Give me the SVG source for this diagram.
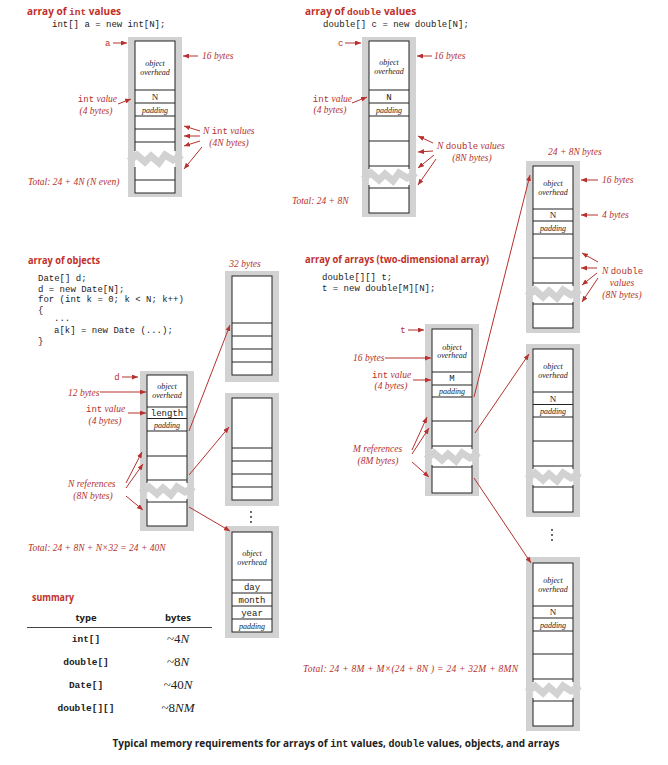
<svg xmlns="http://www.w3.org/2000/svg" xmlns:xlink="http://www.w3.org/1999/xlink" width="668" height="765" viewBox="0 0 668 765">
<style>
.g{fill:#d2d2d2}
.c{fill:#fff;stroke:#222;stroke-width:1}
.l{stroke:#222;stroke-width:1}
.l2{stroke:#222;stroke-width:1.2}
.a{stroke:#b5322e;stroke-width:1;fill:none;marker-end:url(#ah)}
.t{font-family:"Open Sans",sans-serif;font-weight:bold;font-size:10.5px;fill:#c0302a}
.tm{font-family:"Liberation Mono",monospace;font-weight:bold;font-size:10px}
.code{font-family:"Liberation Mono",monospace;font-size:9px;fill:#222}
.lab{font-family:"Liberation Serif",serif;font-style:italic;font-size:9.5px;fill:#b5322e}
.lm{font-family:"Liberation Mono",monospace;font-style:normal;font-size:9px;fill:#b5322e}
.ov{font-family:"Liberation Serif",serif;font-style:italic;font-size:8px;fill:#222;text-anchor:middle}
.cm{font-family:"Liberation Mono",monospace;font-size:9px;fill:#222;text-anchor:middle}
.cs{font-family:"Liberation Serif",serif;font-size:9px;fill:#222;text-anchor:middle}
.sh{font-family:"Open Sans",sans-serif;font-weight:bold;font-size:9.5px;fill:#222;text-anchor:middle}
.sm{font-family:"Liberation Mono",monospace;font-weight:bold;font-size:9.5px;fill:#222;text-anchor:middle}
.sv{font-family:"Liberation Serif",serif;font-size:13px;fill:#222;text-anchor:middle}
.cap{font-family:"Open Sans",sans-serif;font-weight:bold;font-size:10px;fill:#222;text-anchor:middle}
</style>
<defs>
<marker id="ah" markerWidth="6" markerHeight="5" refX="6" refY="2.5" orient="auto" markerUnits="userSpaceOnUse">
<path d="M0,0 L6,2.5 L0,5 z" fill="#b5322e"/>
</marker>
<g id="brk">
<rect x="-0.7" y="-8" width="41.4" height="16" fill="#fff"/>
<polyline points="-6,2 2,-4 10,3 16,-3 24,4 30,-4 38,1 47,-4" fill="none" stroke="#d2d2d2" stroke-width="7" stroke-linejoin="miter"/>
</g>
<g id="dot3" fill="#222">
<circle cx="0" cy="0" r="0.9"/><circle cx="0" cy="5" r="0.9"/><circle cx="0" cy="10" r="0.9"/>
</g>
</defs>
<rect width="668" height="765" fill="#fff"/>

<!-- array of int values -->
<g id="int-array">
<text x="27" y="15" class="t" style="font-size:10px">array of <tspan class="tm" style="font-size:9.5px">int</tspan> values</text>
<text x="52" y="27" class="code">int[] a = new int[N];</text>
<rect x="128" y="37" width="54" height="160" class="g"/>
<rect x="135" y="41" width="40" height="152" class="c"/>
<line x1="135" y1="90" x2="175" y2="90" class="l"/>
<line x1="135" y1="103" x2="175" y2="103" class="l2"/>
<line x1="135" y1="116" x2="175" y2="116" class="l"/>
<line x1="135" y1="129" x2="175" y2="129" class="l"/>
<line x1="135" y1="142" x2="175" y2="142" class="l"/>
<line x1="135" y1="180" x2="175" y2="180" class="l"/>
<use xlink:href="#brk" x="135" y="159"/>
<text x="155" y="66" class="ov">object</text>
<text x="155" y="75" class="ov">overhead</text>
<text x="155" y="99.5" class="cs">N</text>
<text x="155" y="113" class="ov">padding</text>
<text x="105" y="46" class="lm">a</text>
<text x="202" y="59" class="lab">16 bytes</text>
<text x="117" y="102" class="lab" text-anchor="end"><tspan class="lm">int</tspan> value</text>
<text x="96" y="114" class="lab" text-anchor="middle">(4 bytes)</text>
<text x="203" y="134" class="lab">N <tspan class="lm">int</tspan> values</text>
<text x="229" y="146" class="lab" text-anchor="middle">(4N bytes)</text>
<text x="28" y="185" class="lab">Total: 24 + 4N (N even)</text>
</g>

<!-- array of double values -->
<g id="double-array">
<text x="305" y="15" class="t" style="font-size:10px">array of <tspan class="tm" style="font-size:9.5px">double</tspan> values</text>
<text x="323" y="27" class="code">double[] c = new double[N];</text>
<rect x="362" y="37" width="54" height="180" class="g"/>
<rect x="369" y="41" width="40" height="172" class="c"/>
<line x1="369" y1="90" x2="409" y2="90" class="l"/>
<line x1="369" y1="103" x2="409" y2="103" class="l2"/>
<line x1="369" y1="116" x2="409" y2="116" class="l"/>
<line x1="369" y1="141" x2="409" y2="141" class="l"/>
<line x1="369" y1="166" x2="409" y2="166" class="l"/>
<line x1="369" y1="188" x2="409" y2="188" class="l"/>
<use xlink:href="#brk" x="369" y="177"/>
<text x="389" y="65" class="ov">object</text>
<text x="389" y="74" class="ov">overhead</text>
<text x="389" y="99.5" class="cm">N</text>
<text x="389" y="113" class="ov">padding</text>
<text x="338" y="46" class="lm">c</text>
<text x="434" y="59" class="lab">16 bytes</text>
<text x="352" y="102" class="lab" text-anchor="end"><tspan class="lm">int</tspan> value</text>
<text x="330" y="113" class="lab" text-anchor="middle">(4 bytes)</text>
<text x="437" y="149" class="lab">N <tspan class="lm">double</tspan> values</text>
<text x="472" y="161" class="lab" text-anchor="middle">(8N bytes)</text>
<text x="292" y="204" class="lab">Total: 24 + 8N</text>
</g>

<!-- array of objects -->
<g id="object-array">
<text x="28" y="264" class="t" textLength="72" lengthAdjust="spacingAndGlyphs">array of objects</text>
<text x="38" y="281" class="code">Date[] d;</text>
<text x="38" y="291.5" class="code">d = new Date[N];</text>
<text x="38" y="302" class="code">for (int k = 0; k &lt; N; k++)</text>
<text x="38" y="312.5" class="code">{</text>
<text x="54" y="321" class="code">...</text>
<text x="54" y="333" class="code">a[k] = new Date (...);</text>
<text x="38" y="344" class="code">}</text>
<rect x="140" y="371" width="54" height="160" class="g"/>
<rect x="147" y="375" width="40" height="151" class="c"/>
<line x1="147" y1="407" x2="187" y2="407" class="l"/>
<line x1="147" y1="418.5" x2="187" y2="418.5" class="l2"/>
<line x1="147" y1="431" x2="187" y2="431" class="l"/>
<line x1="147" y1="456" x2="187" y2="456" class="l"/>
<line x1="147" y1="480" x2="187" y2="480" class="l"/>
<line x1="147" y1="502" x2="187" y2="502" class="l"/>
<use xlink:href="#brk" x="147" y="491"/>
<text x="167" y="389" class="ov">object</text>
<text x="167" y="398" class="ov">overhead</text>
<text x="167" y="416" class="cm">length</text>
<text x="167" y="427.5" class="ov">padding</text>
<text x="117" y="380" class="lm" text-anchor="middle">d</text>
<text x="68" y="396" class="lab">12 bytes</text>
<text x="86" y="412" class="lab"><tspan class="lm">int</tspan> value</text>
<text x="105" y="424" class="lab" text-anchor="middle">(4 bytes)</text>
<text x="68" y="487" class="lab">N references</text>
<text x="93" y="499" class="lab" text-anchor="middle">(8N bytes)</text>
<text x="28" y="551" class="lab">Total: 24 + 8N + N×32 = 24 + 40N</text>
</g>

<g id="date-1">
<text x="245" y="267" class="lab" text-anchor="middle">32 bytes</text>
<rect x="225" y="271" width="54" height="111" class="g"/>
<rect x="232" y="276" width="40" height="99" class="c"/>
<line x1="232" y1="323" x2="272" y2="323" class="l"/>
<line x1="232" y1="336" x2="272" y2="336" class="l"/>
<line x1="232" y1="349" x2="272" y2="349" class="l"/>
<line x1="232" y1="362" x2="272" y2="362" class="l"/>
</g>
<g id="date-2">
<rect x="225" y="393" width="54" height="113" class="g"/>
<rect x="232" y="398" width="40" height="102" class="c"/>
<line x1="232" y1="448" x2="272" y2="448" class="l"/>
<line x1="232" y1="461" x2="272" y2="461" class="l"/>
<line x1="232" y1="474" x2="272" y2="474" class="l"/>
<line x1="232" y1="487" x2="272" y2="487" class="l"/>
<use xlink:href="#dot3" x="251" y="512"/>
</g>
<g id="date-n">
<rect x="225" y="526" width="54" height="112" class="g"/>
<rect x="232" y="532" width="40" height="100" class="c"/>
<line x1="232" y1="580" x2="272" y2="580" class="l"/>
<line x1="232" y1="593" x2="272" y2="593" class="l"/>
<line x1="232" y1="606" x2="272" y2="606" class="l"/>
<line x1="232" y1="619" x2="272" y2="619" class="l"/>
<text x="252" y="556" class="ov">object</text>
<text x="252" y="565" class="ov">overhead</text>
<text x="252" y="590" class="cm">day</text>
<text x="252" y="603" class="cm">month</text>
<text x="252" y="616" class="cm">year</text>
<text x="252" y="629" class="ov">padding</text>
</g>

<!-- array of arrays -->
<g id="array-of-arrays">
<text x="305" y="263" class="t" textLength="184" lengthAdjust="spacingAndGlyphs">array of arrays (two-dimensional array)</text>
<text x="322" y="280" class="code">double[][] t;</text>
<text x="322" y="291" class="code">t = new double[M][N];</text>
<rect x="425" y="324" width="54" height="172" class="g"/>
<rect x="432" y="329" width="40" height="164" class="c"/>
<line x1="432" y1="372" x2="472" y2="372" class="l"/>
<line x1="432" y1="385" x2="472" y2="385" class="l2"/>
<line x1="432" y1="397" x2="472" y2="397" class="l"/>
<line x1="432" y1="421" x2="472" y2="421" class="l"/>
<line x1="432" y1="446" x2="472" y2="446" class="l"/>
<line x1="432" y1="467" x2="472" y2="467" class="l"/>
<use xlink:href="#brk" x="432" y="457"/>
<text x="452" y="350" class="ov">object</text>
<text x="452" y="358" class="ov">overhead</text>
<text x="452" y="381" class="cm">M</text>
<text x="452" y="394" class="ov">padding</text>
<text x="403" y="333" class="lm" text-anchor="middle">t</text>
<text x="353" y="361" class="lab">16 bytes</text>
<text x="372" y="378" class="lab"><tspan class="lm">int</tspan> value</text>
<text x="391" y="389" class="lab" text-anchor="middle">(4 bytes)</text>
<text x="353" y="452" class="lab">M references</text>
<text x="378" y="464" class="lab" text-anchor="middle">(8M bytes)</text>
<text x="303" y="672" class="lab" textLength="215" lengthAdjust="spacing">Total: 24 + 8M + M×(24 + 8N ) = 24 + 32M + 8MN</text>
</g>

<g id="row-1">
<text x="548" y="155" class="lab">24  + 8N bytes</text>
<rect x="526" y="161" width="54" height="172" class="g"/>
<rect x="533" y="166" width="40" height="162" class="c"/>
<line x1="533" y1="209" x2="573" y2="209" class="l"/>
<line x1="533" y1="221" x2="573" y2="221" class="l2"/>
<line x1="533" y1="234" x2="573" y2="234" class="l"/>
<line x1="533" y1="258" x2="573" y2="258" class="l"/>
<line x1="533" y1="283" x2="573" y2="283" class="l"/>
<line x1="533" y1="304" x2="573" y2="304" class="l"/>
<use xlink:href="#brk" x="533" y="294"/>
<text x="553" y="186" class="ov">object</text>
<text x="553" y="195" class="ov">overhead</text>
<text x="553" y="218" class="cs">N</text>
<text x="553" y="231" class="ov">padding</text>
<text x="602" y="183" class="lab">16 bytes</text>
<text x="602" y="218" class="lab">4 bytes</text>
<text x="602" y="274" class="lab">N <tspan class="lm">double</tspan></text>
<text x="622" y="286" class="lab" text-anchor="middle">values</text>
<text x="622" y="298" class="lab" text-anchor="middle">(8N bytes)</text>
</g>

<g id="row-2">
<rect x="526" y="344" width="54" height="173" class="g"/>
<rect x="533" y="349" width="40" height="163" class="c"/>
<line x1="533" y1="392" x2="573" y2="392" class="l"/>
<line x1="533" y1="404.5" x2="573" y2="404.5" class="l2"/>
<line x1="533" y1="417" x2="573" y2="417" class="l"/>
<line x1="533" y1="441" x2="573" y2="441" class="l"/>
<line x1="533" y1="466" x2="573" y2="466" class="l"/>
<line x1="533" y1="487" x2="573" y2="487" class="l"/>
<use xlink:href="#brk" x="533" y="477"/>
<text x="553" y="369" class="ov">object</text>
<text x="553" y="378" class="ov">overhead</text>
<text x="553" y="401.5" class="cs">N</text>
<text x="553" y="414" class="ov">padding</text>
<use xlink:href="#dot3" x="552" y="530"/>
</g>

<g id="row-m">
<rect x="526" y="557" width="54" height="174" class="g"/>
<rect x="533" y="563" width="40" height="163" class="c"/>
<line x1="533" y1="606" x2="573" y2="606" class="l"/>
<line x1="533" y1="618" x2="573" y2="618" class="l2"/>
<line x1="533" y1="631" x2="573" y2="631" class="l"/>
<line x1="533" y1="654" x2="573" y2="654" class="l"/>
<line x1="533" y1="679" x2="573" y2="679" class="l"/>
<line x1="533" y1="701" x2="573" y2="701" class="l"/>
<use xlink:href="#brk" x="533" y="690"/>
<text x="553" y="583" class="ov">object</text>
<text x="553" y="592" class="ov">overhead</text>
<text x="553" y="615" class="cs">N</text>
<text x="553" y="628" class="ov">padding</text>
</g>

<!-- summary -->
<g id="summary">
<text x="32" y="601" class="t" style="font-size:10px" textLength="42" lengthAdjust="spacingAndGlyphs">summary</text>
<text x="86" y="621" class="sh">type</text>
<text x="178" y="621" class="sh">bytes</text>
<line x1="27" y1="627.5" x2="212" y2="627.5" stroke="#444" stroke-width="1"/>
<text x="86" y="642" class="sm">int[]</text>
<text x="86" y="665" class="sm">double[]</text>
<text x="86" y="688" class="sm">Date[]</text>
<text x="86" y="711" class="sm">double[][]</text>
<text x="178" y="643" class="sv">~4<tspan font-style="italic">N</tspan></text>
<text x="178" y="666" class="sv">~8<tspan font-style="italic">N</tspan></text>
<text x="178" y="689" class="sv">~40<tspan font-style="italic">N</tspan></text>
<text x="178" y="712" class="sv">~8<tspan font-style="italic">NM</tspan></text>
</g>

<text x="336" y="747" class="cap">Typical memory requirements for arrays of <tspan class="tm" style="font-size:10px">int</tspan> values, <tspan class="tm" style="font-size:10px">double</tspan> values, objects, and arrays</text>

<g id="connectors">
<line x1="113" y1="43" x2="127" y2="43" class="a"/>
<line x1="198" y1="56" x2="183" y2="56" class="a"/>
<line x1="118" y1="104" x2="131" y2="99" class="a"/>
<line x1="200" y1="131" x2="184" y2="126" class="a"/>
<line x1="200" y1="136" x2="184" y2="136" class="a"/>
<line x1="200" y1="141" x2="184" y2="146" class="a"/>
<line x1="202" y1="147" x2="184" y2="169" class="a"/>
<line x1="345" y1="43" x2="361" y2="43" class="a"/>
<line x1="432" y1="56" x2="417" y2="56" class="a"/>
<line x1="352" y1="103" x2="367" y2="97" class="a"/>
<line x1="433" y1="143" x2="418" y2="136" class="a"/>
<line x1="433" y1="151" x2="418" y2="152" class="a"/>
<line x1="434" y1="155" x2="418" y2="168" class="a"/>
<line x1="436" y1="159" x2="418" y2="185" class="a"/>
<line x1="598" y1="180" x2="581" y2="180" class="a"/>
<line x1="598" y1="215" x2="581" y2="215" class="a"/>
<line x1="598" y1="262" x2="582" y2="253" class="a"/>
<line x1="597" y1="268" x2="581" y2="268" class="a"/>
<line x1="597" y1="273" x2="582" y2="285" class="a"/>
<line x1="598" y1="278" x2="582" y2="302" class="a"/>
<line x1="408" y1="330" x2="424" y2="330" class="a"/>
<line x1="385" y1="358" x2="431" y2="358" class="a"/>
<line x1="413" y1="380" x2="431" y2="380" class="a"/>
<line x1="412" y1="450" x2="427" y2="417" class="a"/>
<line x1="412" y1="454" x2="429" y2="428" class="a"/>
<line x1="412" y1="462" x2="429" y2="477" class="a"/>
<line x1="474" y1="397" x2="530" y2="175" class="a"/>
<line x1="475" y1="433" x2="529" y2="354" class="a"/>
<line x1="474" y1="478" x2="531" y2="563" class="a"/>
<line x1="122" y1="377" x2="138" y2="377" class="a"/>
<line x1="100" y1="392" x2="146" y2="392" class="a"/>
<line x1="128" y1="413" x2="146" y2="413" class="a"/>
<line x1="126" y1="483" x2="142" y2="452" class="a"/>
<line x1="126" y1="488" x2="143" y2="464" class="a"/>
<line x1="126" y1="496" x2="143" y2="510" class="a"/>
<line x1="189" y1="431" x2="230" y2="325" class="a"/>
<line x1="189" y1="475" x2="229" y2="427" class="a"/>
<line x1="189" y1="507" x2="230" y2="531" class="a"/>
</g>
</svg>
